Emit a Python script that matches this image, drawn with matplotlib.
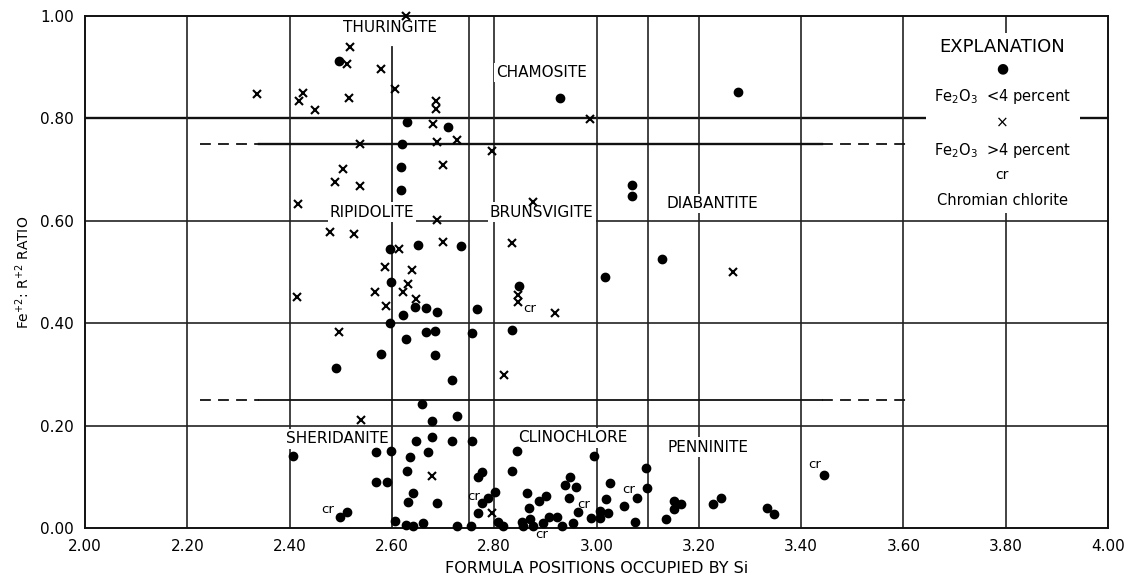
import matplotlib
matplotlib.use('Agg')
import matplotlib.pyplot as plt
from matplotlib.patches import Rectangle

# Fe2O3 < 4 percent (dots)
dot_x = [2.497, 2.929, 3.276, 2.629, 2.709, 2.619, 2.618, 2.618, 3.069, 3.069,
	3.127, 3.017, 2.849, 2.596, 2.650, 2.735, 2.598, 2.621, 2.646, 2.667,
	2.688, 2.767, 2.596, 2.666, 2.684, 2.756, 2.627, 2.579, 2.684, 2.491,
	2.718, 2.835, 2.659, 2.678, 2.727,
	2.678, 2.647, 2.718, 2.757, 2.407, 2.569, 2.598, 2.671, 2.635, 2.629,
	2.569, 2.590, 2.641, 2.631, 2.688, 2.498, 2.512, 2.605, 2.628, 2.641,
	2.660, 2.728, 2.755, 2.769, 2.776, 2.769, 2.844, 2.835, 2.776, 2.787,
	2.802, 2.808, 2.818, 2.865, 2.867, 2.854, 2.870, 2.857, 2.876, 2.888,
	2.902, 2.896, 2.908, 2.922, 2.932, 2.948, 2.938, 2.960, 2.947, 2.963,
	2.953, 2.995, 2.989, 3.007, 3.007, 3.023, 3.018, 3.026, 3.054, 3.080,
	3.075, 3.097, 3.099, 3.152, 3.165, 3.152, 3.136, 3.227, 3.244, 3.333,
	3.346, 3.445]
dot_y = [0.912, 0.839, 0.851, 0.792, 0.783, 0.749, 0.706, 0.660, 0.669, 0.649,
	0.525, 0.491, 0.473, 0.544, 0.553, 0.551, 0.481, 0.416, 0.432, 0.429,
	0.422, 0.428, 0.400, 0.383, 0.385, 0.381, 0.370, 0.340, 0.338, 0.312,
	0.290, 0.387, 0.242, 0.209, 0.219,
	0.177, 0.169, 0.169, 0.170, 0.141, 0.149, 0.151, 0.148, 0.139, 0.111,
	0.090, 0.089, 0.068, 0.051, 0.048, 0.022, 0.032, 0.014, 0.005, 0.004,
	0.009, 0.003, 0.003, 0.100, 0.109, 0.029, 0.151, 0.111, 0.048, 0.058,
	0.071, 0.012, 0.004, 0.069, 0.040, 0.012, 0.018, 0.003, 0.003, 0.053,
	0.062, 0.009, 0.022, 0.022, 0.003, 0.099, 0.084, 0.081, 0.058, 0.031,
	0.009, 0.141, 0.020, 0.020, 0.034, 0.029, 0.057, 0.088, 0.043, 0.059,
	0.012, 0.118, 0.079, 0.053, 0.047, 0.037, 0.018, 0.046, 0.058, 0.040,
	0.027, 0.104]

# Fe2O3 > 4 percent (crosses)
cross_x = [2.628, 2.518, 2.512, 2.578, 2.605, 2.336, 2.427, 2.419, 2.450, 2.517,
	2.686, 2.686, 2.681, 2.727, 2.688, 2.538, 2.699, 2.505, 2.987, 2.795,
	2.876, 2.834, 3.266, 2.489, 2.538, 2.417, 2.688, 2.478, 2.526, 2.614,
	2.699, 2.587, 2.640, 2.631, 2.621, 2.567, 2.415, 2.647, 2.588, 2.497,
	2.846, 2.847, 2.918, 2.819, 2.540, 2.679, 2.796]
cross_y = [1.000, 0.939, 0.907, 0.896, 0.857, 0.847, 0.849, 0.834, 0.816, 0.839,
	0.834, 0.818, 0.790, 0.758, 0.753, 0.750, 0.709, 0.702, 0.799, 0.737,
	0.636, 0.556, 0.499, 0.675, 0.668, 0.632, 0.602, 0.579, 0.575, 0.544,
	0.559, 0.509, 0.503, 0.476, 0.461, 0.460, 0.451, 0.447, 0.434, 0.383,
	0.455, 0.442, 0.419, 0.299, 0.211, 0.102, 0.030]

# "cr" (chromian chlorite) label positions
cr_x = [2.870, 2.475, 2.759, 2.893, 2.975, 3.063, 3.427]
cr_y = [0.428, 0.036, 0.061, -0.012, 0.046, 0.076, 0.124]

# field names
names = ['THURINGITE', 'CHAMOSITE', 'RIPIDOLITE', 'BRUNSVIGITE', 'DIABANTITE',
	'SHERIDANITE', 'CLINOCHLORE', 'PENNINITE']
name_x = [2.597, 2.893, 2.561, 2.893, 3.226, 2.493, 2.954, 3.218]
name_y = [0.977, 0.889, 0.617, 0.617, 0.634, 0.174, 0.176, 0.158]

x_ticks = [2.0, 2.2, 2.4, 2.6, 2.8, 3.0, 3.2, 3.4, 3.6, 3.8, 4.0]
y_ticks = [0.0, 0.2, 0.4, 0.6, 0.8, 1.0]
v_lines = [2.2, 2.4, 2.75, 2.8, 3.0, 3.1, 3.2, 3.4, 3.6, 3.8]


def draw_grid(ax):
	for y in [0.2, 0.4, 0.6]:
		ax.axhline(y, color='#222222', lw=1.2, zorder=1)
	ax.axhline(0.8, color='#111111', lw=1.7, zorder=1)
	for x in v_lines:
		ax.axvline(x, color='#222222', lw=1.2, zorder=1)
	ax.plot([2.6, 2.6], [0, 0.94], color='#222222', lw=1.3, zorder=1)
	# field boundaries at 0.25 and 0.75, dashed at the ends
	for y in [0.25, 0.75]:
		w = 1.7 if y == 0.75 else 1.3
		ax.plot([2.34, 3.44], [y, y], color='#111111', lw=w, zorder=1)
		ax.plot([2.225, 2.34], [y, y], color='#111111', lw=1.3, ls=(0, (6, 4)), zorder=1)
		ax.plot([3.44, 3.605], [y, y], color='#111111', lw=1.3, ls=(0, (6, 4)), zorder=1)


def draw_legend(ax):
	ax.add_patch(Rectangle((3.645, 0.615), 0.30, 0.352, facecolor='white',
		edgecolor='none', zorder=2))
	cx = 3.793
	ax.text(cx, 0.94, 'EXPLANATION', ha='center', va='center', fontsize=13, zorder=3)
	ax.text(cx, 0.898, '\u25cf', ha='center', va='center', fontsize=10, zorder=3)
	ax.text(cx, 0.842, r'Fe$_2$O$_3$  <4 percent', ha='center', va='center', fontsize=10.5, zorder=3)
	ax.text(cx, 0.791, '\u00d7', ha='center', va='center', fontsize=11, zorder=3)
	ax.text(cx, 0.738, r'Fe$_2$O$_3$  >4 percent', ha='center', va='center', fontsize=10.5, zorder=3)
	ax.text(cx, 0.689, 'cr', ha='center', va='center', fontsize=10, zorder=3)
	ax.text(cx, 0.640, 'Chromian chlorite', ha='center', va='center', fontsize=10.5, zorder=3)


def main():
	plt.rcParams['font.family'] = ['DejaVu Sans']
	plt.rcParams['mathtext.fontset'] = 'dejavusans'
	fig = plt.figure(figsize=(11.31, 5.79), dpi=100)
	ax = fig.add_axes([0.0752, 0.0881, 0.9045, 0.8843])

	draw_grid(ax)

	ax.plot(dot_x, dot_y, 'o', color='black', ms=6, zorder=4, clip_on=False)
	ax.plot(cross_x, cross_y, 'x', color='black', ms=6, mew=1.5, zorder=4, clip_on=False)

	for x, y in zip(cr_x, cr_y):
		ax.text(x, y, 'cr', ha='center', va='center', fontsize=9.5, zorder=5)

	for n, x, y in zip(names, name_x, name_y):
		ax.text(x, y, n, ha='center', va='center', fontsize=11, zorder=3,
			bbox=dict(facecolor='white', edgecolor='none', pad=1.5))

	draw_legend(ax)

	ax.set_xlim(2.0, 4.0)
	ax.set_ylim(0.0, 1.0)
	ax.set_xticks(x_ticks)
	ax.set_yticks(y_ticks)
	ax.set_xticklabels(['%.2f' % v for v in x_ticks])
	ax.set_yticklabels(['%.2f' % v for v in y_ticks])
	ax.tick_params(length=0, labelsize=11, pad=8)
	for s in ax.spines.values():
		s.set_linewidth(1.4)
		s.set_color('#111111')

	ax.set_xlabel('FORMULA POSITIONS OCCUPIED BY Si', fontsize=11.5, labelpad=5)
	ax.set_ylabel(r'Fe$^{+2}$: R$^{+2}$ RATIO', fontsize=10, labelpad=6)

	fig.savefig('out.png', dpi=100)


if __name__ == '__main__':
	main()
